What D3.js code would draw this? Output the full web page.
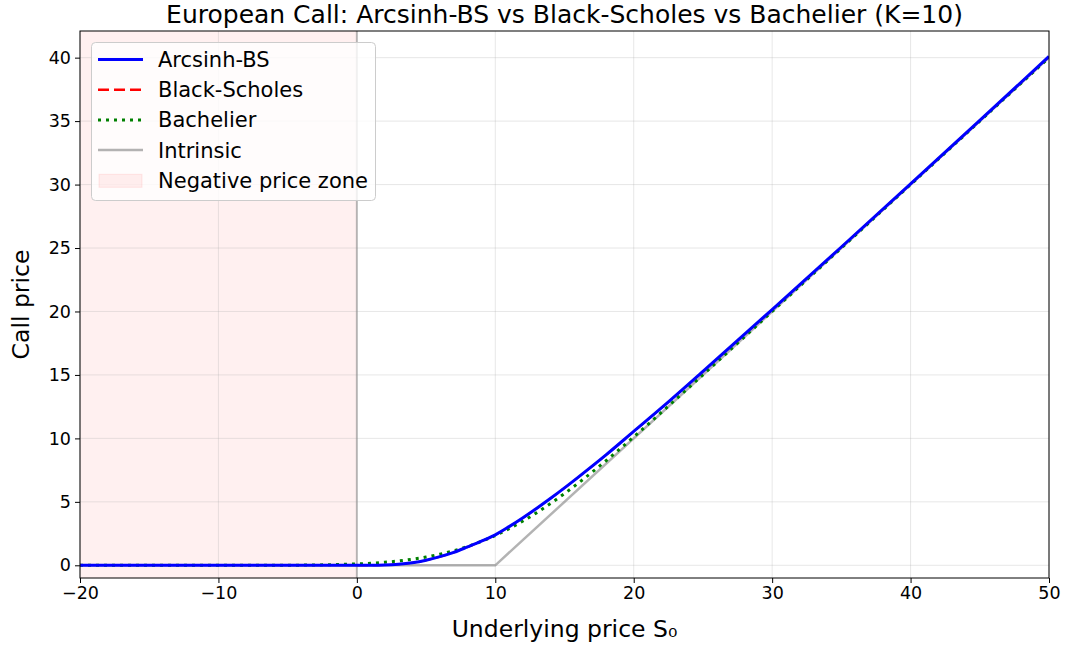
<!DOCTYPE html>
<html>
<head>
<meta charset="utf-8">
<script src="https://cdn.jsdelivr.net/npm/d3@7"></script>
<style>
    body { margin: 0; background: #fff; }
    text { font-family: "DejaVu Sans", sans-serif; fill: #000; }
</style>
</head>
<body>
<svg id="drawingSpace" width="1067" height="646"></svg>
<script>
//chart data
var spot = [-20, -15, -10, -5, -2, 0, 1, 2, 3, 4, 5, 6, 7, 8, 9, 10, 11, 12, 13, 14, 15, 16, 18, 20, 22, 25, 30, 35, 40, 45, 50];
var arcsinhBS = [0, 0, 0, 0, 0, 0, 0.002, 0.02, 0.08, 0.2, 0.4, 0.68, 1.02, 1.45, 1.9, 2.4, 3.05, 3.75, 4.5, 5.28, 6.1, 6.95, 8.7, 10.55, 12.4, 15.28, 20.15, 25.08, 30.05, 35.05, 40.1];
var blackScholes = [null, null, null, null, null, 0, 0.001, 0.017, 0.075, 0.195, 0.39, 0.67, 1.01, 1.44, 1.89, 2.39, 3.04, 3.74, 4.49, 5.27, 6.09, 6.94, 8.69, 10.54, 12.39, 15.27, 20.14, 25.07, 30.04, 35.04, 40.08];
var bachelier = [0, 0, 0.0005, 0.01, 0.045, 0.11, 0.16, 0.24, 0.34, 0.48, 0.65, 0.88, 1.15, 1.49, 1.89, 2.35, 2.89, 3.49, 4.15, 4.88, 5.65, 6.48, 8.24, 10.11, 12.05, 15.01, 20.0, 25.0, 30.0, 35.0, 40.0];
var intrinsicS = [-20, 10, 50],
    intrinsicV = [0, 0, 40];
var xTicks = [-20, -10, 0, 10, 20, 30, 40, 50],
    yTicks = [0, 5, 10, 15, 20, 25, 30, 35, 40];
var negZone = [-20, 0];

//drawing space and plot area
var svg = d3.select("#drawingSpace"),
    margin = {top: 31, left: 80, bottom: 68, right: 18},
    width = +svg.attr("width"),
    height = +svg.attr("height"),
    plotRight = width - margin.right,
    plotBottom = height - margin.bottom;

var x = d3.scaleLinear().domain([-20, 50]).range([margin.left, plotRight]),
    y = d3.scaleLinear().domain([-1, 42.1]).range([plotBottom, margin.top]);

svg.append("clipPath").attr("id", "plotClip")
    .append("rect")
    .attr("x", margin.left).attr("y", margin.top)
    .attr("width", plotRight - margin.left).attr("height", plotBottom - margin.top);

//negative price zone
svg.append("rect")
    .attr("x", x(negZone[0])).attr("y", margin.top)
    .attr("width", x(negZone[1]) - x(negZone[0]))
    .attr("height", plotBottom - margin.top)
    .attr("fill", "#ff0000").attr("fill-opacity", 0.06);

//grid lines
var grid = svg.append("g").attr("class", "grid");
grid.selectAll(".gx").data(xTicks).enter().append("line")
    .attr("x1", d => x(d)).attr("x2", d => x(d))
    .attr("y1", margin.top).attr("y2", plotBottom)
    .attr("stroke", "#b0b0b0").attr("stroke-opacity", 0.3).attr("stroke-width", 1);
grid.selectAll(".gy").data(yTicks).enter().append("line")
    .attr("x1", margin.left).attr("x2", plotRight)
    .attr("y1", d => y(d)).attr("y2", d => y(d))
    .attr("stroke", "#b0b0b0").attr("stroke-opacity", 0.3).attr("stroke-width", 1);

//vertical line at S=0
svg.append("line")
    .attr("x1", x(0)).attr("x2", x(0))
    .attr("y1", margin.top).attr("y2", plotBottom)
    .attr("stroke", "#808080").attr("stroke-opacity", 0.5).attr("stroke-width", 2);

//curves
var plot = svg.append("g").attr("clip-path", "url(#plotClip)");

function makeLine(values) {
    return d3.line()
        .defined((d, i) => values[i] !== null)
        .x(d => x(d))
        .y((d, i) => y(values[i]))
        .curve(d3.curveMonotoneX);
}

plot.append("path")
    .attr("d", d3.line().x(d => x(d)).y((d, i) => y(intrinsicV[i]))(intrinsicS))
    .attr("fill", "none").attr("stroke", "#808080").attr("stroke-opacity", 0.6).attr("stroke-width", 2.5);

plot.append("path")
    .attr("d", makeLine(bachelier)(spot))
    .attr("fill", "none").attr("stroke", "#008000").attr("stroke-width", 3)
    .attr("stroke-dasharray", "3,5");

plot.append("path")
    .attr("d", makeLine(blackScholes)(spot))
    .attr("fill", "none").attr("stroke", "#ff0000").attr("stroke-width", 2)
    .attr("stroke-dasharray", "11,5");

plot.append("path")
    .attr("d", makeLine(arcsinhBS)(spot))
    .attr("fill", "none").attr("stroke", "#0000ff").attr("stroke-width", 3);

//axes
var xAxis = svg.append("g")
    .attr("transform", "translate(0," + plotBottom + ")")
    .call(d3.axisBottom(x).tickValues(xTicks).tickSize(5).tickPadding(4)
        .tickFormat(d => d < 0 ? "\u2212" + Math.abs(d) : d));
var yAxis = svg.append("g")
    .attr("transform", "translate(" + margin.left + ",0)")
    .call(d3.axisLeft(y).tickValues(yTicks).tickSize(5).tickPadding(4));

[xAxis, yAxis].forEach(function (a) {
    a.select(".domain").remove();
    a.selectAll("line").attr("stroke", "#000").attr("stroke-width", 1);
    a.selectAll("text").attr("font-size", 17.5).attr("font-family", "DejaVu Sans").attr("fill", "#000");
});

//frame
svg.append("rect")
    .attr("x", margin.left).attr("y", margin.top)
    .attr("width", plotRight - margin.left).attr("height", plotBottom - margin.top)
    .attr("fill", "none").attr("stroke", "#000").attr("stroke-width", 1);

//labels and title
var midX = (margin.left + plotRight) / 2,
    midY = (margin.top + plotBottom) / 2;
svg.append("text").attr("x", midX).attr("y", 23)
    .attr("text-anchor", "middle").attr("font-size", 25)
    .text("European Call: Arcsinh-BS vs Black-Scholes vs Bachelier (K=10)");
svg.append("text").attr("x", midX).attr("y", 637)
    .attr("text-anchor", "middle").attr("font-size", 23.5)
    .text("Underlying price S\u2080");
svg.append("text")
    .attr("transform", "translate(29," + midY + ") rotate(-90)")
    .attr("text-anchor", "middle").attr("font-size", 23.5)
    .text("Call price");

//legend
var legendItems = [
    {label: "Arcsinh-BS", color: "#0000ff", dash: null, width: 3, opacity: 1},
    {label: "Black-Scholes", color: "#ff0000", dash: "11,5", width: 2.5, opacity: 1},
    {label: "Bachelier", color: "#008000", dash: "3,5", width: 3, opacity: 1},
    {label: "Intrinsic", color: "#808080", dash: null, width: 2.5, opacity: 0.6},
    {label: "Negative price zone", patch: true}
];

var legend = svg.append("g").attr("class", "legend");
legend.append("rect")
    .attr("x", 91.5).attr("y", 42.5).attr("width", 284).attr("height", 158).attr("rx", 4)
    .attr("fill", "#fff").attr("fill-opacity", 0.8)
    .attr("stroke", "#cccccc").attr("stroke-width", 1);

var rows = legend.selectAll(".row").data(legendItems).enter().append("g")
    .attr("transform", (d, i) => "translate(0," + (59.5 + i * 30.2) + ")");

rows.filter(d => !d.patch).append("line")
    .attr("x1", 98).attr("x2", 143).attr("y1", 0).attr("y2", 0)
    .attr("stroke", d => d.color).attr("stroke-width", d => d.width)
    .attr("stroke-opacity", d => d.opacity)
    .attr("stroke-dasharray", d => d.dash);

rows.filter(d => d.patch).append("rect")
    .attr("x", 99).attr("y", -6).attr("width", 43).attr("height", 13)
    .attr("fill", "#ff0000").attr("fill-opacity", 0.06)
    .attr("stroke", "#ff0000").attr("stroke-opacity", 0.08);

rows.append("text")
    .attr("x", 158).attr("y", 7.5)
    .attr("font-size", 21)
    .text(d => d.label);
</script>
</body>
</html>
